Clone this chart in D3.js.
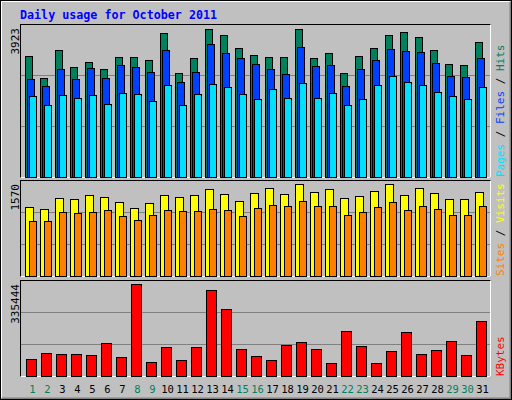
<!DOCTYPE html>
<html><head><meta charset="utf-8">
<script src="https://cdn.jsdelivr.net/npm/d3@7"></script>
<style>body{margin:0;background:#fff}</style></head>
<body><svg id="c" width="512" height="400"></svg>
<script>
const days = d3.range(1,32).map(String);
const weekend = ["1","2","8","9","15","16","22","23","29","30"];
const hits  = [3218,2634,3377,2926,3059,2873,3191,3191,3112,3828,2767,3165,3923,3775,3430,3244,3191,3191,3923,3165,3297,2767,3218,3430,3775,3854,3722,3377,3006,2979,3589];
const files = [2608,2422,2873,2608,2900,2634,2979,2926,2793,3377,2528,2793,3536,3297,3165,3006,2873,2740,3456,2953,2979,2422,2873,3112,3403,3350,3324,3032,2687,2661,3165];
const pages = [2157,1918,2183,2104,2183,1945,2237,2210,2024,2449,1918,2210,2475,2396,2210,2077,2343,2104,2502,2104,2237,1918,2077,2449,2687,2528,2449,2263,2157,2077,2396];
const visits= [1177,1143,1331,1314,1382,1348,1263,1160,1246,1382,1348,1382,1485,1399,1280,1416,1502,1399,1570,1433,1485,1331,1365,1450,1570,1382,1502,1416,1314,1314,1433];
const sites = [939,939,1092,1075,1092,1126,1024,956,1041,1126,1109,1109,1143,1126,1024,1160,1212,1194,1280,1194,1194,1041,1092,1177,1263,1126,1194,1143,1041,1041,1194];
const kbytes= [63648,85680,82008,82008,78336,118728,70992,335444,52632,104040,59976,104040,313344,243576,96696,74664,59976,111384,122400,96696,48960,162792,107712,48960,89352,159120,82008,93024,126072,78336,199512];
const maxLabels = ["3923","1570","335444"];

const svg = d3.select("#c");
const F = "DejaVu Sans Mono, monospace";
// background + bevel
svg.append("rect").attr("x",0).attr("y",0).attr("width",512).attr("height",400).attr("fill","#c0c0c0");
svg.append("path").attr("d","M1.5,398.5V1.5H510.5").attr("stroke","#fff").attr("fill","none");
svg.append("path").attr("d","M1.5,398.5H510.5V1.5").attr("stroke","#808080").attr("fill","none").attr("stroke-width",2);
svg.append("rect").attr("x",0.5).attr("y",0.5).attr("width",511).attr("height",399).attr("fill","none").attr("stroke","#000");
svg.append("text").attr("x",20).attr("y",19).attr("font-family",F).attr("font-weight","bold").attr("font-size",11.7).attr("fill","#0000ff").text("Daily usage for October 2011");

const x = d3.scaleBand().domain(days).range([22,487]).paddingInner(0).paddingOuter(0);
// x(d) step 15, start at 22 => day1 band 22..37

function panel(top,bottom,maxTop,maxVal,series,label,labelParts){
  svg.append("rect").attr("x",20.5).attr("y",top+0.5).attr("width",470).attr("height",bottom-top).attr("fill","none").attr("stroke","#000");
  svg.append("path").attr("d",`M20.5,${bottom+0.5}H490.5V${top+0.5}`).attr("stroke","#fff").attr("fill","none");
  const y = d3.scaleLinear().domain([0,maxVal]).range([bottom,maxTop]);
  const h = bottom-top;
  [1,2].forEach(k=>{
    const gy = Math.round(bottom - h*k/3)+0.5;
    svg.append("line").attr("x1",21).attr("x2",490).attr("y1",gy).attr("y2",gy).attr("stroke","#808080");
  });
  series.forEach(s=>{
    svg.append("g").selectAll("rect").data(s.data).join("rect")
      .attr("x",(d,i)=>x(days[i])+s.off+0.5).attr("width",s.w)
      .attr("y",d=>Math.round(y(d))+0.5).attr("height",d=>bottom-Math.round(y(d)))
      .attr("fill",s.color).attr("stroke","#000");
  });
  svg.append("text").attr("transform",`translate(19,${top+4}) rotate(-90)`).attr("text-anchor","end")
    .attr("font-family",F).attr("font-size",11).attr("fill","#000").text(label);
  const t = svg.append("text").attr("transform",`translate(504,${bottom}) rotate(-90)`).attr("text-anchor","start")
    .attr("font-family",F).attr("font-size",11);
  labelParts.forEach((p,i)=>{
    if(i>0) t.append("tspan").attr("fill","#000").text(" / ");
    t.append("tspan").attr("fill",p[1]).text(p[0]);
  });
}
panel(24,177,29,3923,[
  {data:hits,off:3,w:7,color:"#00805c"},
  {data:files,off:5,w:7,color:"#0040ff"},
  {data:pages,off:7,w:7,color:"#00e0ff"}],maxLabels[0],
  [["Pages","#00e0ff"],["Files","#0040ff"],["Hits","#00805c"]]);
panel(180,276,184,1570,[
  {data:visits,off:3,w:8,color:"#ffff00"},
  {data:sites,off:7,w:7,color:"#ff8000"}],maxLabels[1],
  [["Sites","#ff8000"],["Visits","#ffff00"]]);
panel(280,376,284,335444,[
  {data:kbytes,off:4,w:10,color:"#ff0000"}],maxLabels[2],
  [["KBytes","#ff0000"]]);

svg.append("g").selectAll("text").data(days).join("text")
  .attr("x",d=>x(d)+x.bandwidth()/2+3).attr("y",393).attr("text-anchor","middle")
  .attr("font-family",F).attr("font-size",10.5)
  .attr("fill",d=>weekend.includes(d)?"#00805c":"#000").text(d=>d);
</script></body></html>
